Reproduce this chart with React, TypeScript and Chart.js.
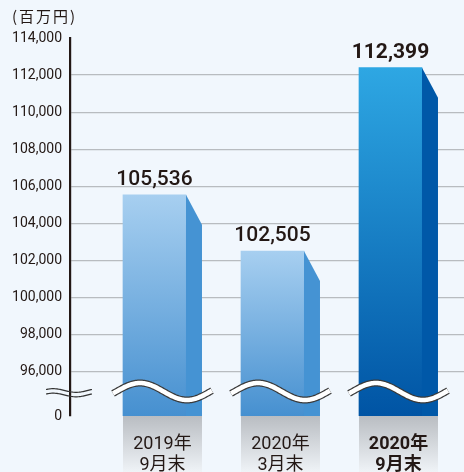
import React, { useEffect, useRef } from "react";
import { Chart, registerables } from "chart.js";

Chart.register(...registerables);

const categories: string[][] = [
  ["2019年", "9月末"],
  ["2020年", "3月末"],
  ["2020年", "9月末"],
];
const values: number[] = [105536, 102505, 112399];
const yTickValues: number[] = [96000, 98000, 100000, 102000, 104000, 106000, 108000, 110000, 112000, 114000];
const yBottomLabel = "0";
const unitLabel = "(百万円)";

const Y_MIN = 93600;
const Y_MAX = 114000;
const BG = "#f1f7fd";
const FRONT_TOP = ["#a7cff0", "#a7cff0", "#2ea7e3"];
const FRONT_BOTTOM = ["#4690d0", "#4690d0", "#0054a4"];
const SIDE = ["#4593d3", "#4593d3", "#0058a8"];
const BOLD = [false, false, true];
const FONT = "Roboto, 'Noto Sans CJK JP', sans-serif";
const SIDE_W = 16;
const SIDE_DROP = 30;

export default function App() {
  const ref = useRef<HTMLCanvasElement | null>(null);
  useEffect(() => {
    document.body.style.margin = "0";
    document.body.style.background = BG;
    const canvas = ref.current!;
    const deco = {
      id: "deco",
      beforeDraw(chart: any) {
        const { ctx, chartArea } = chart;
        ctx.save();
        ctx.fillStyle = BG;
        ctx.fillRect(0, 0, chart.width, chart.height);
        const meta = chart.getDatasetMeta(0);
        meta.data.forEach((el: any) => {
          const left = el.x - el.width / 2;
          const w = el.width + SIDE_W;
          const g = ctx.createLinearGradient(0, chartArea.bottom, 0, chart.height);
          g.addColorStop(0, "#b9bdc2");
          g.addColorStop(1, "#eff3f7");
          ctx.fillStyle = g;
          ctx.fillRect(left, chartArea.bottom, w, chart.height - chartArea.bottom);
        });
        ctx.restore();
      },
      afterDatasetsDraw(chart: any) {
        const { ctx, chartArea } = chart;
        const meta = chart.getDatasetMeta(0);
        ctx.save();
        meta.data.forEach((el: any, i: number) => {
          const right = el.x + el.width / 2;
          const left = el.x - el.width / 2;
          const bottom = chartArea.bottom;
          // side face
          ctx.fillStyle = SIDE[i];
          ctx.beginPath();
          ctx.moveTo(right, el.y);
          ctx.lineTo(right + SIDE_W, el.y + SIDE_DROP);
          ctx.lineTo(right + SIDE_W, bottom);
          ctx.lineTo(right, bottom);
          ctx.closePath();
          ctx.fill();
          // wave break
          const xs = left - 10;
          const xe = right + SIDE_W + 10;
          const x0 = left - 6.5;
          const yc = bottom - 24.5;
          ctx.beginPath();
          for (let x = xs; x <= xe; x += 1) {
            const y = yc - 8.5 * Math.sin((2 * Math.PI * (x - x0)) / 94);
            if (x === xs) ctx.moveTo(x, y);
            else ctx.lineTo(x, y);
          }
          ctx.lineCap = "butt";
          ctx.strokeStyle = "#3a3a3a";
          ctx.lineWidth = 7;
          ctx.stroke();
          ctx.strokeStyle = "#ffffff";
          ctx.lineWidth = 4.6;
          ctx.stroke();
          // value label
          ctx.fillStyle = "#231815";
          ctx.font = `${BOLD[i] ? "bold" : "500"} 21px ${FONT}`;
          ctx.textAlign = "center";
          ctx.textBaseline = "alphabetic";
          ctx.fillText(values[i].toLocaleString("en-US"), el.x, el.y - 10);
        });
        ctx.restore();
      },
      afterDraw(chart: any) {
        const { ctx, chartArea } = chart;
        ctx.save();
        // axis break
        ctx.strokeStyle = "#333333";
        ctx.lineWidth = 1.2;
        [-2.5, 2].forEach((dy) => {
          ctx.beginPath();
          for (let x = 46; x <= 92; x += 1) {
            const y = chartArea.bottom - 23 + dy - 1.8 * Math.sin((2 * Math.PI * (x - 46)) / 46 + 0.6);
            if (x === 46) ctx.moveTo(x, y);
            else ctx.lineTo(x, y);
          }
          ctx.stroke();
        });
        // unit label
        ctx.fillStyle = "#231815";
        ctx.font = `15px 'Noto Sans CJK JP', sans-serif`;
        (ctx as any).letterSpacing = "2px";
        ctx.textAlign = "left";
        ctx.textBaseline = "middle";
        ctx.fillText(unitLabel, 12, 16);
        ctx.restore();
      },
    };

    const chart = new Chart(canvas, {
      type: "bar",
      data: {
        datasets: [
          {
            data: values.map((v, i) => ({ x: i, y: v })),
            barThickness: 63,
            borderWidth: 0,
            backgroundColor: (c: any) => {
              const ch = c.chart;
              const ys = ch.scales && ch.scales.y;
              const i = c.dataIndex ?? 0;
              if (!ys || !ch.chartArea) return FRONT_BOTTOM[i];
              const top = ys.getPixelForValue(values[i]);
              const g = ch.ctx.createLinearGradient(0, top, 0, ys.bottom);
              g.addColorStop(0, FRONT_TOP[i]);
              g.addColorStop(1, FRONT_BOTTOM[i]);
              return g;
            },
          },
        ],
      },
      options: {
        animation: false,
        responsive: false,
        devicePixelRatio: 1,
        layout: { padding: { left: 0, top: 38, right: 0, bottom: 0 } },
        plugins: { legend: { display: false }, tooltip: { enabled: false } },
        scales: {
          x: {
            type: "linear",
            min: -0.716,
            max: 2.623,
            offset: false,
            bounds: "data",
            grid: { display: false, offset: false },
            border: { display: false },
            afterBuildTicks: (s: any) => {
              s.ticks = categories.map((_, i) => ({ value: i }));
            },
            afterFit: (s: any) => {
              s.height = 56;
            },
            ticks: {
              padding: 10,
              labelOffset: 8,
              maxRotation: 0,
              autoSkip: false,
              color: "#231815",
              font: (c: any) => ({
                family: FONT,
                size: 18,
                lineHeight: "21px",
                weight: BOLD[c.index] ? "bold" : "normal",
              }),
              callback: (v: any) => categories[Math.round(Number(v))] ?? "",
            },
          },
          y: {
            min: Y_MIN,
            max: Y_MAX,
            afterBuildTicks: (s: any) => {
              s.ticks = [{ value: Y_MIN }, ...yTickValues.map((v) => ({ value: v }))];
            },
            afterFit: (s: any) => {
              s.width = 70;
            },
            border: { display: true, color: "#231815", width: 2.2 },
            grid: {
              drawTicks: false,
              lineWidth: 1.2,
              color: (c: any) => {
                const v = c.tick && c.tick.value;
                return v > Y_MIN && v < Y_MAX ? "#b8bcc0" : "rgba(0,0,0,0)";
              },
            },
            ticks: {
              padding: 8,
              color: "#231815",
              font: { family: FONT, size: 14 },
              callback: (v: any) => (Number(v) === Y_MIN ? yBottomLabel : Number(v).toLocaleString("en-US")),
            },
          },
        },
      },
      plugins: [deco],
    });
    return () => chart.destroy();
  }, []);
  return (
    <div style={{ width: 464, height: 472, background: BG }}>
      <canvas ref={ref} width={464} height={472} style={{ display: "block" }} />
    </div>
  );
}
